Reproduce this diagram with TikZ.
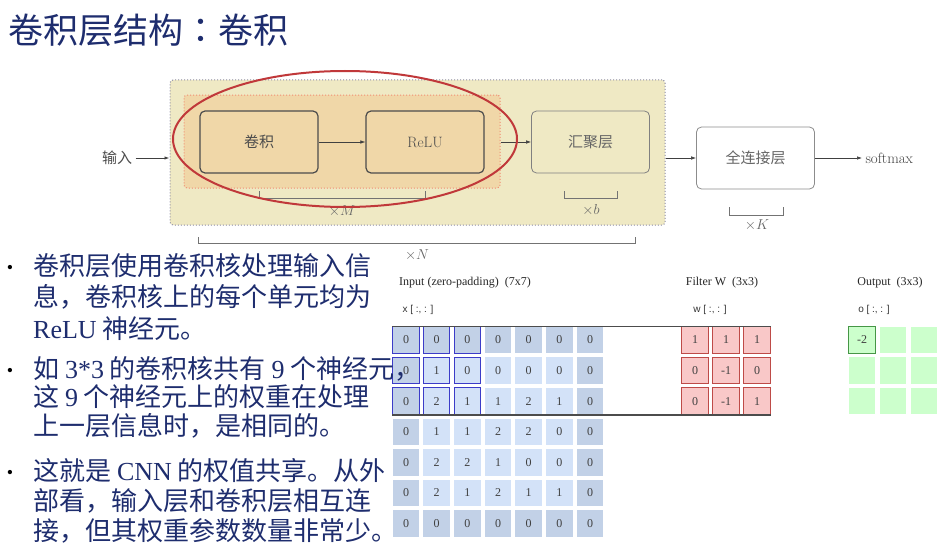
\documentclass[tikz,border=0pt]{standalone}
\usepackage{fontspec}
\newfontfamily\cjk{Noto Sans CJK SC}
\newfontfamily\cjktc{Noto Sans CJK TC}
\newfontfamily\tnr{Liberation Serif}
\newfontfamily\sans{Liberation Sans}
\usetikzlibrary{positioning,arrows.meta}
\definecolor{navy}{RGB}{30,45,110}
\definecolor{stackbg}{RGB}{239,233,196}
\definecolor{stackedge}{RGB}{140,140,165}
\definecolor{blockbg}{RGB}{240,215,168}
\definecolor{blockedge}{RGB}{240,140,115}
\definecolor{ringred}{RGB}{192,56,58}
\definecolor{padblue}{RGB}{194,209,231}
\definecolor{cellblue}{RGB}{211,226,248}
\definecolor{hiblue}{RGB}{60,60,200}
\definecolor{kernred}{RGB}{249,200,200}
\definecolor{kernedge}{RGB}{190,75,72}
\definecolor{outgreen}{RGB}{204,255,204}
\definecolor{outedge}{RGB}{70,150,70}
\newcommand{\lat}[1]{{\tnr #1}}

\begin{document}
\begin{tikzpicture}[x=1pt, y=-1pt, >={Latex[length=5pt,width=3.5pt]},
  box/.style={draw, rounded corners=5pt, minimum width=118pt, minimum height=62pt, inner sep=0pt},
  blk/.style={box, fill=blockbg, draw=black!70, line width=1.2pt, text=black!70},
  pool/.style={box, draw=black!50, line width=0.8pt, text=black!60},
  fc/.style={box, fill=white, draw=black!45, line width=0.8pt, text=black!60},
  zh/.style={font=\cjk\fontsize{15}{15}\selectfont},
  lm/.style={font=\fontsize{15}{15}\selectfont},
  arr/.style={->, black!75, line width=0.6pt},
  brk/.style={black!55, line width=0.7pt},
  ring/.style={draw=ringred, line width=2pt},
  cell/.style={minimum size=26.5pt, inner sep=0pt, line width=1pt, font=\tnr\fontsize{12}{12}\selectfont, text=black!75},
  link/.style={black!70, line width=1.2pt},
  gridcap/.style={font=\tnr\fontsize{12}{14}\selectfont, text=black!85},
  idx/.style={font=\sans\fontsize{10}{12}\selectfont, text=black!80},
  para/.style={anchor=base west, align=left, inner sep=0pt, text=navy, font=\cjk\fontsize{26}{#1}\selectfont},
  bull/.style={anchor=base, inner sep=0pt, font=\tnr\fontsize{18}{18}\selectfont}]
\useasboundingbox (0,0) rectangle (948,551);

% title
\node[anchor=west, inner sep=0pt, text=navy, font=\cjk\fontsize{35}{35}\selectfont] (title) at (8,30) {卷积层结构{\cjktc ：}卷积};

% network diagram
\node[draw=stackedge, dotted, line width=1pt, fill=stackbg, rounded corners=3pt,
  minimum width=495pt, minimum height=145pt] (stack) at (417.5,152.5) {};
\node[draw=blockedge, dotted, line width=1pt, fill=blockbg, rounded corners=3pt,
  minimum width=316pt, minimum height=93pt] (unitM) at (342,141.5) {};
\node[blk, zh] (conv) at (259,142) {卷积};
\node[blk, lm] (relu) at (425,142) {ReLU};
\node[pool, zh] (pool) at (590.5,142) {汇聚层};
\node[fc, zh] (fc) at (755.5,158) {全连接层};
\node[zh, text=black!70] (in) at (117,158) {输入};
\node[lm, text=black!75, anchor=west] (sm) at (862,158) {softmax};
\draw[arr, line width=0.9pt] (in) -- (in -| stack.west);
\draw[arr] (conv) -- (relu);
\draw[arr] (pool -| unitM.east) -- (pool);
\draw[arr] (fc -| stack.east) -- (fc);
\draw[arr] (fc) -- (sm);

% repeat brackets
\draw[brk] (259,191) -- (259,198) -- (425,198) -- (425,191);
\draw[brk] (564,191) -- (564,198) -- (617,198) -- (617,191);
\draw[brk] (729,207) -- (729,215) -- (783,215) -- (783,207);
\draw[brk] (198,237) -- (198,243) -- (635,243) -- (635,237);
\node[lm, text=black!60] (tM) at (342,211) {$\times M$};
\node[lm, text=black!60] (tb) at (591,210) {$\times b$};
\node[lm, text=black!60] (tK) at (757,225) {$\times K$};
\node[lm, text=black!60] (tN) at (417,255) {$\times N$};

\draw[ring] (345,139) ellipse [x radius=172pt, y radius=68pt];

% convolution grids
\node[gridcap] (capI) at (465,283) {Input (zero-padding)\ \ (7x7)};
\node[gridcap] (capW) at (722,283) {Filter W\ \ (3x3)};
\node[gridcap] (capO) at (890,283) {Output\ \ (3x3)};
\node[idx] (idxI) at (418,310) {x [ :, : ]};
\node[idx] (idxW) at (710,310) {w [ :, : ]};
\node[idx] (idxO) at (874,310) {o [ :, : ]};

\foreach \row [count=\i] in {{0,0,0,0,0,0,0},{0,1,0,0,0,0,0},{0,2,1,1,2,1,0},{0,1,1,2,2,0,0},{0,2,2,1,0,0,0},{0,2,1,2,1,1,0},{0,0,0,0,0,0,0}}
  \foreach \v [count=\j] in \row {
    \pgfmathtruncatemacro\pad{(\i==1)||(\i==7)||(\j==1)||(\j==7)}
    \pgfmathtruncatemacro\hl{(\i<4)&&(\j<4)}
    \ifnum\pad=1 \def\bg{padblue}\else\def\bg{cellblue}\fi
    \ifnum\hl=1 \def\bd{hiblue}\else\def\bd{none}\fi
    \node[cell, fill=\bg, draw=\bd] (in-\i-\j) at ({406+30.67*(\j-1)},{340+30.6*(\i-1)}) {\v};
  }
\foreach \row [count=\i] in {{1,1,1},{0,-1,0},{0,-1,1}}
  \foreach \v [count=\j] in \row
    \node[cell, fill=kernred, draw=kernedge] (f-\i-\j) at ({695+31*(\j-1)},{340+30.6*(\i-1)}) {\v};
\foreach \i in {1,2,3}
  \foreach \j in {1,2,3} {
    \pgfmathtruncatemacro\first{(\i==1)&&(\j==1)}
    \ifnum\first=1 \def\bd{outedge}\else\def\bd{none}\fi
    \node[cell, fill=outgreen, draw=\bd] (o-\i-\j) at ({862+31*(\j-1)},{340+30.6*(\i-1)}) {\ifnum\first=1 -2\fi};
  }
\draw[link] (in-1-1.north west) -- (f-1-3.north east);
\draw[link] (in-3-1.south west) -- (f-3-3.south east);

% bullet text
\node[bull] (b1) at (10,273) {•};
\node[bull] (b2) at (10,376) {•};
\node[bull] (b3) at (10,478) {•};
\node[para=31.5] (p1) at (33,338) {卷积层使用卷积核处理输入信\\息，卷积核上的每个单元均为\\\lat{ReLU} 神经元。};
\node[para=28.5] (p2) at (33,435) {如 \lat{3*3} 的卷积核共有 \lat{9} 个神经元，\\这 \lat{9} 个神经元上的权重在处理\\上一层信息时，是相同的。};
\node[para=30] (p3) at (33,540) {这就是 \lat{CNN} 的权值共享。从外\\部看，输入层和卷积层相互连\\接，但其权重参数数量非常少。};
\end{tikzpicture}
\end{document}
